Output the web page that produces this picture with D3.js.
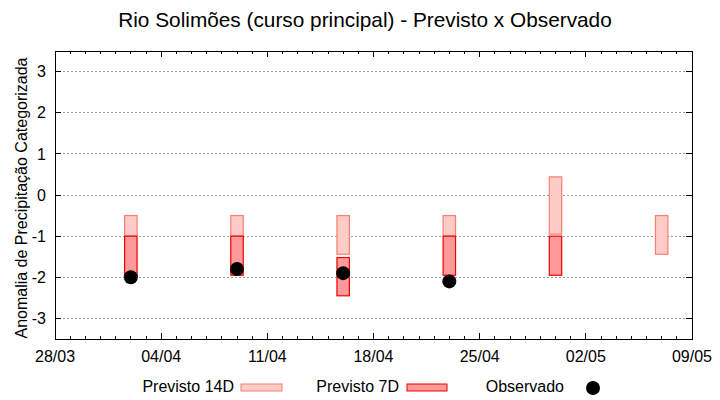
<!DOCTYPE html>
<html>
<head>
<meta charset="utf-8">
<script src="https://cdn.jsdelivr.net/npm/d3@7"></script>
<style>
  body { margin: 0; background: #fff; }
  text { font-family: "Liberation Sans", Arial, sans-serif; fill: #000; }
</style>
</head>
<body>
<div id="chart"></div>
<script>
// chart values
var dates = ["2024-04-02", "2024-04-09", "2024-04-16", "2024-04-23", "2024-04-30", "2024-05-07"];
var prev14Top = [-0.5, -0.5, -0.5, -0.5, 0.44, -0.5];
var prev14Bottom = [-1, -1, -1.44, -1, -0.95, -1.44];
var prev7Top = [-1, -1, -1.52, -1, -1, null];
var prev7Bottom = [-1.97, -1.95, -2.45, -1.95, -1.95, null];
var observado = [-2.0, -1.8, -1.9, -2.1, null, null];
var yTicks = [-3, -2, -1, 0, 1, 2, 3];
var xTickDates = ["2024-03-28", "2024-04-04", "2024-04-11", "2024-04-18", "2024-04-25", "2024-05-02", "2024-05-09"];

var svgWidth = 720;
var svgHeight = 400;
var margin = { top: 51, right: 28, bottom: 61, left: 55 };
var width = svgWidth - margin.left - margin.right;
var height = svgHeight - margin.top - margin.bottom;

var svg = d3.select("#chart").append("svg")
    .attr("width", svgWidth)
    .attr("height", svgHeight);

var g = svg.append("g")
    .attr("transform", `translate(${margin.left}, ${margin.top})`);

var parse = d3.utcParse("%Y-%m-%d");
var fmt = d3.utcFormat("%d/%m");

var scaleX = d3.scaleUtc()
    .domain([parse(xTickDates[0]), parse(xTickDates[xTickDates.length - 1])])
    .range([0, width]);

var scaleY = d3.scaleLinear()
    .domain([-3.5, 3.5])
    .range([height, 0]);

// grid lines
g.selectAll(".grid")
    .data(yTicks)
    .enter().append("line")
    .attr("x1", 0).attr("x2", width)
    .attr("y1", d => scaleY(d)).attr("y2", d => scaleY(d))
    .attr("stroke", "#999")
    .attr("stroke-width", 1)
    .attr("stroke-dasharray", "2,2")
    .attr("shape-rendering", "crispEdges");

var rows = dates.map((d, i) => ({
    date: parse(d),
    t14: prev14Top[i], b14: prev14Bottom[i],
    t7: prev7Top[i], b7: prev7Bottom[i],
    obs: observado[i]
}));

var halfDay = 0.41 * 24 * 3600 * 1000;
function bx(d) { return scaleX(new Date(d.date.getTime() - halfDay)); }
function bw(d) { return scaleX(new Date(d.date.getTime() + halfDay)) - bx(d); }

// previsto 14D boxes
g.selectAll(".p14")
    .data(rows)
    .enter().append("rect")
    .attr("x", bx)
    .attr("width", bw)
    .attr("y", d => scaleY(d.t14))
    .attr("height", d => scaleY(d.b14) - scaleY(d.t14))
    .attr("fill", "#ffcbc6")
    .attr("stroke", "#f47f72")
    .attr("stroke-width", 1.2);

// previsto 7D boxes
g.selectAll(".p7")
    .data(rows.filter(d => d.t7 != null))
    .enter().append("rect")
    .attr("x", bx)
    .attr("width", bw)
    .attr("y", d => scaleY(d.t7))
    .attr("height", d => scaleY(d.b7) - scaleY(d.t7))
    .attr("fill", "#ff9a9a")
    .attr("stroke", "#ee0000")
    .attr("stroke-width", 1.2);

// observado points
g.selectAll(".obs")
    .data(rows.filter(d => d.obs != null))
    .enter().append("circle")
    .attr("cx", d => scaleX(d.date))
    .attr("cy", d => scaleY(d.obs))
    .attr("r", 7)
    .attr("fill", "#000");

// frame
g.append("rect")
    .attr("width", width).attr("height", height)
    .attr("fill", "none")
    .attr("stroke", "#000")
    .attr("stroke-width", 1)
    .attr("shape-rendering", "crispEdges");

// axes with mirrored ticks
var majorX = xTickDates.map(parse);
var minorX = d3.utcDay.range(majorX[0], d3.utcDay.offset(majorX[majorX.length - 1], 1));

function drawTicks(sel, data, pos, len, side) {
    sel.selectAll(null).data(data).enter().append("line")
        .attr("x1", d => pos(d)).attr("x2", d => pos(d))
        .attr("y1", side === "bottom" ? height : 0)
        .attr("y2", side === "bottom" ? height - len : len)
        .attr("stroke", "#000")
        .attr("shape-rendering", "crispEdges");
}
drawTicks(g, minorX, scaleX, 3, "bottom");
drawTicks(g, minorX, scaleX, 3, "top");
drawTicks(g, majorX, scaleX, 6, "bottom");
drawTicks(g, majorX, scaleX, 6, "top");

g.selectAll(".ytk")
    .data(yTicks)
    .enter().append("path")
    .attr("d", d => `M0,${scaleY(d)}h6M${width},${scaleY(d)}h-6`)
    .attr("stroke", "#000")
    .attr("shape-rendering", "crispEdges");

g.selectAll(".ylab")
    .data(yTicks)
    .enter().append("text")
    .attr("x", -9)
    .attr("y", d => scaleY(d))
    .attr("dy", "0.36em")
    .attr("text-anchor", "end")
    .style("font-size", "16px")
    .text(d => d);

g.selectAll(".xlab")
    .data(majorX)
    .enter().append("text")
    .attr("x", d => scaleX(d))
    .attr("y", height + 23)
    .attr("text-anchor", "middle")
    .style("font-size", "16px")
    .text(d => fmt(d));

// title and axis label
svg.append("text")
    .attr("x", 365)
    .attr("y", 27)
    .attr("text-anchor", "middle")
    .style("font-size", "20.8px")
    .text("Rio Solimões (curso principal) - Previsto x Observado");

svg.append("text")
    .attr("transform", `translate(27, ${margin.top + height / 2 + 3}) rotate(-90)`)
    .attr("text-anchor", "middle")
    .style("font-size", "16px")
    .text("Anomalia de Precipitação Categorizada");

// legend
var legend = svg.append("g");
var legY = 387;
legend.append("text").attr("x", 234).attr("y", legY + 5).attr("text-anchor", "end")
    .style("font-size", "16px").text("Previsto 14D");
legend.append("rect").attr("x", 241).attr("y", legY - 3).attr("width", 41).attr("height", 7)
    .attr("fill", "#ffcbc6").attr("stroke", "#f47f72");
legend.append("text").attr("x", 399).attr("y", legY + 5).attr("text-anchor", "end")
    .style("font-size", "16px").text("Previsto 7D");
legend.append("rect").attr("x", 407).attr("y", legY - 3).attr("width", 40).attr("height", 7)
    .attr("fill", "#ff9a9a").attr("stroke", "#ee0000");
legend.append("text").attr("x", 564).attr("y", legY + 5).attr("text-anchor", "end")
    .style("font-size", "16px").text("Observado");
legend.append("circle").attr("cx", 593).attr("cy", legY + 1).attr("r", 7).attr("fill", "#000");
</script>
</body>
</html>
